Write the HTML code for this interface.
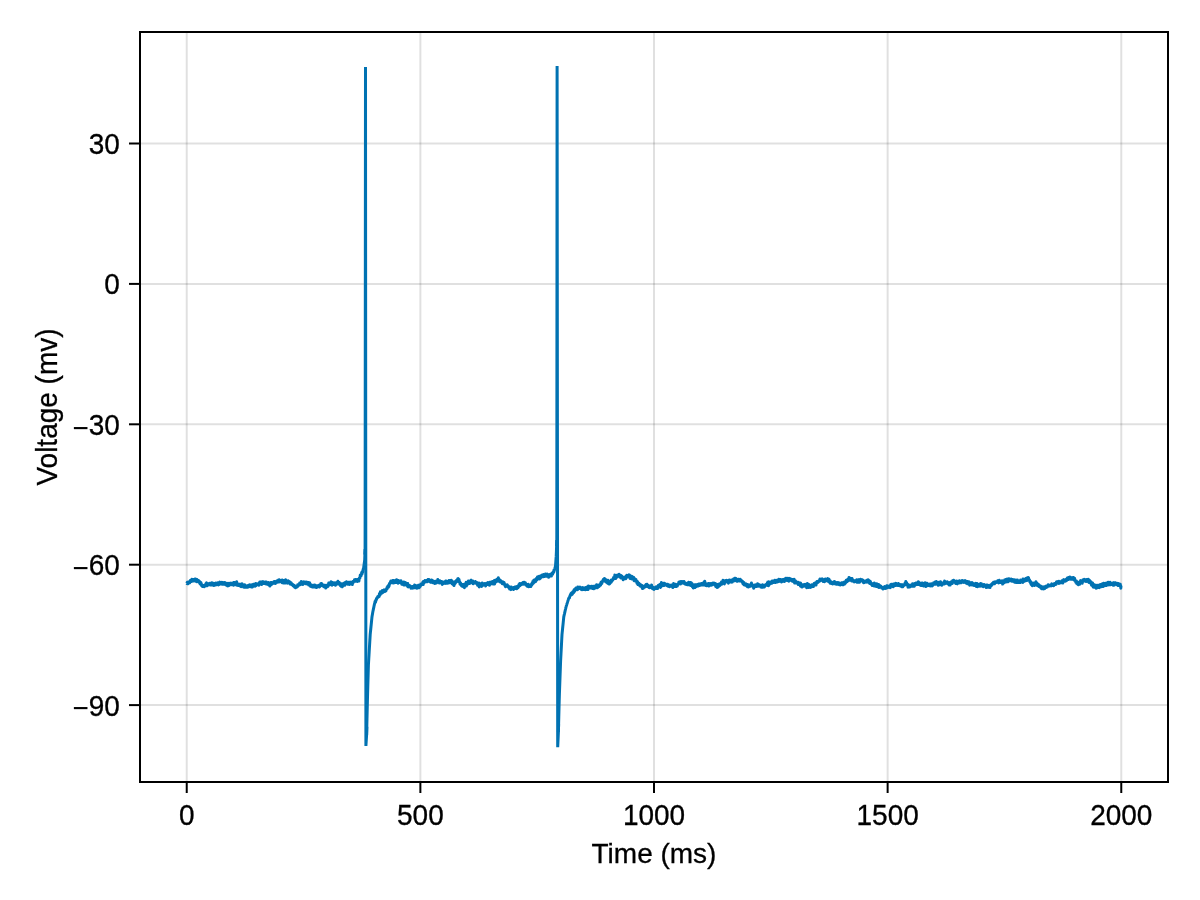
<!DOCTYPE html>
<html lang="en">
<head>
<meta charset="utf-8">
<title>Voltage trace</title>
<style>
html,body{margin:0;padding:0;background:#fff;}
body{width:1200px;height:900px;overflow:hidden;}
svg{display:block;}
text{font-family:"Liberation Sans",sans-serif;font-size:28px;fill:#000;stroke:#000;stroke-width:0.3px;}
</style>
</head>
<body>
<svg width="1200" height="900" viewBox="0 0 1200 900">
<rect x="0" y="0" width="1200" height="900" fill="#ffffff"/>
<g stroke="#000" stroke-opacity="0.12" stroke-width="2" fill="none">
<line x1="186.73" y1="32" x2="186.73" y2="782"/>
<line x1="420.37" y1="32" x2="420.37" y2="782"/>
<line x1="654.00" y1="32" x2="654.00" y2="782"/>
<line x1="887.63" y1="32" x2="887.63" y2="782"/>
<line x1="1121.27" y1="32" x2="1121.27" y2="782"/>
<line x1="140" y1="143.50" x2="1168" y2="143.50"/>
<line x1="140" y1="283.90" x2="1168" y2="283.90"/>
<line x1="140" y1="424.30" x2="1168" y2="424.30"/>
<line x1="140" y1="564.70" x2="1168" y2="564.70"/>
<line x1="140" y1="705.10" x2="1168" y2="705.10"/>
</g>
<g fill="none" stroke="#0072B2" stroke-width="3">
<polyline stroke-linejoin="round" points="186.7,583.2 186.9,583.4 187.1,582.9 187.3,582.4 187.5,582.6 187.7,582.2 187.9,582.9 188.1,583.8 188.3,582.3 188.5,582.2 188.7,583.0 188.9,582.8 189.1,582.6 189.3,581.7 189.5,582.3 189.7,582.8 189.9,581.2 190.1,581.8 190.3,580.6 190.5,580.9 190.7,580.4 190.9,581.5 191.1,580.6 191.3,581.6 191.5,581.4 191.7,581.0 191.9,579.2 192.1,580.5 192.3,580.8 192.5,580.8 192.7,579.4 192.9,580.1 193.1,579.6 193.3,579.6 193.5,580.9 193.7,579.4 193.9,579.8 194.1,580.5 194.3,579.4 194.5,579.8 194.7,580.0 194.9,580.0 195.1,579.1 195.3,580.1 195.5,581.1 195.7,578.9 195.9,580.8 196.1,580.3 196.3,579.7 196.5,581.7 196.7,580.8 196.9,579.4 197.1,580.4 197.3,580.8 197.5,580.3 197.7,581.0 197.9,580.4 198.1,581.1 198.3,581.9 198.5,580.6 198.7,581.5 198.9,581.2 199.1,581.9 199.3,581.2 199.5,581.9 199.7,582.4 199.9,583.5 200.1,583.9 200.3,582.3 200.5,582.9 200.7,584.2 200.9,582.4 201.1,583.8 201.3,584.2 201.5,585.4 201.7,585.2 201.9,584.7 202.1,584.8 202.3,585.1 202.5,586.6 202.7,585.4 202.9,585.7 203.1,586.4 203.3,586.2 203.5,586.4 203.7,585.5 203.9,586.2 204.1,585.7 204.3,586.8 204.5,586.3 204.7,585.6 204.9,586.0 205.1,585.1 205.3,586.0 205.5,585.1 205.7,585.4 205.9,583.8 206.1,584.9 206.3,583.2 206.5,582.8 206.7,584.0 206.9,583.4 207.1,584.1 207.3,585.7 207.5,583.4 207.7,583.6 207.9,584.2 208.1,584.5 208.3,584.0 208.5,584.0 208.7,584.7 208.9,584.5 209.1,583.4 209.3,584.1 209.5,584.2 209.7,583.4 209.9,584.4 210.1,583.6 210.3,585.0 210.5,584.4 210.7,584.4 210.9,583.9 211.1,584.3 211.3,582.9 211.5,583.5 211.7,584.7 211.9,582.8 212.1,585.1 212.3,583.1 212.5,585.0 212.7,583.8 212.9,585.1 213.1,584.6 213.3,583.3 213.5,585.4 213.7,585.5 213.9,584.3 214.1,584.1 214.3,584.2 214.5,583.5 214.7,585.1 214.9,583.8 215.1,584.1 215.3,583.6 215.5,583.7 215.7,583.1 215.9,585.0 216.1,583.9 216.3,584.7 216.5,584.0 216.7,583.4 216.9,583.7 217.1,583.5 217.3,583.9 217.5,583.5 217.7,583.6 217.9,582.7 218.1,583.1 218.3,584.9 218.5,583.2 218.7,582.9 218.9,583.9 219.1,584.6 219.3,582.5 219.5,583.4 219.7,583.0 219.9,582.1 220.1,584.0 220.3,583.4 220.5,583.4 220.7,582.8 220.9,583.7 221.1,582.9 221.3,583.1 221.5,582.4 221.7,582.3 221.9,584.2 222.1,582.8 222.3,583.3 222.5,583.0 222.7,582.7 222.9,582.6 223.1,583.5 223.3,582.9 223.5,583.1 223.7,583.2 223.9,584.2 224.1,583.9 224.3,583.7 224.5,583.1 224.7,582.5 224.9,584.3 225.1,584.4 225.3,583.7 225.5,584.2 225.7,584.5 225.9,584.6 226.1,584.7 226.3,583.8 226.5,585.3 226.7,583.3 226.9,584.9 227.1,584.7 227.3,585.1 227.5,585.9 227.7,585.7 227.9,583.8 228.1,583.4 228.3,585.4 228.5,584.1 228.7,584.9 228.9,585.6 229.1,583.7 229.3,583.3 229.5,585.0 229.7,584.8 229.9,584.5 230.1,584.7 230.3,584.0 230.5,583.4 230.7,584.4 230.9,583.7 231.1,583.1 231.3,584.7 231.5,584.2 231.7,584.5 231.9,583.4 232.1,583.6 232.3,583.3 232.5,583.3 232.7,584.0 232.9,583.2 233.1,584.0 233.3,584.0 233.5,585.2 233.7,582.5 233.9,584.2 234.1,583.5 234.3,583.6 234.5,582.5 234.7,583.3 234.9,584.3 235.1,583.7 235.3,583.9 235.5,583.7 235.7,584.8 235.9,584.0 236.1,582.4 236.3,583.6 236.5,582.7 236.7,581.8 236.9,583.9 237.1,585.3 237.3,584.4 237.5,583.6 237.7,583.8 237.9,585.4 238.1,584.7 238.3,584.7 238.5,584.7 238.7,584.8 238.9,585.4 239.1,585.3 239.3,585.1 239.5,584.2 239.7,585.4 239.9,584.6 240.1,586.0 240.3,584.2 240.5,585.2 240.7,585.3 240.9,584.4 241.1,586.7 241.3,586.6 241.5,585.2 241.7,586.2 241.9,585.9 242.1,583.7 242.3,585.9 242.5,585.7 242.7,585.9 242.9,585.1 243.1,585.8 243.3,585.9 243.5,587.0 243.7,586.4 243.9,586.2 244.1,587.3 244.3,585.8 244.5,585.9 244.7,584.8 244.9,587.3 245.1,586.9 245.3,586.8 245.5,586.7 245.7,586.2 245.9,586.3 246.1,585.9 246.3,586.0 246.5,586.2 246.7,587.2 246.9,586.5 247.1,586.1 247.3,585.7 247.5,585.6 247.7,587.3 247.9,586.5 248.1,586.1 248.3,585.8 248.5,585.2 248.7,586.0 248.9,586.7 249.1,585.7 249.3,585.9 249.5,585.9 249.7,586.1 249.9,584.8 250.1,585.8 250.3,585.3 250.5,586.5 250.7,585.3 250.9,586.2 251.1,586.9 251.3,585.4 251.5,585.2 251.7,585.7 251.9,585.5 252.1,584.7 252.3,585.8 252.5,586.9 252.7,585.1 252.9,585.1 253.1,584.5 253.3,585.4 253.5,584.2 253.7,584.3 253.9,586.0 254.1,584.3 254.3,585.8 254.5,586.0 254.7,585.0 254.9,585.2 255.1,586.2 255.3,584.6 255.5,584.2 255.7,583.6 255.9,584.6 256.1,585.6 256.3,585.2 256.5,583.7 256.7,583.7 256.9,583.9 257.1,584.5 257.3,584.1 257.5,584.3 257.7,584.3 257.9,583.8 258.1,584.0 258.3,584.1 258.5,583.9 258.7,584.3 258.9,585.2 259.1,584.2 259.3,583.7 259.5,582.4 259.7,583.9 259.9,582.0 260.1,582.4 260.3,584.0 260.5,583.8 260.7,583.1 260.9,581.9 261.1,582.8 261.3,582.5 261.5,583.5 261.7,584.6 261.9,583.0 262.1,582.2 262.3,581.8 262.5,582.6 262.7,582.5 262.9,581.7 263.1,582.6 263.3,581.7 263.5,583.5 263.7,583.5 263.9,583.5 264.1,582.4 264.3,583.2 264.5,582.8 264.7,582.6 264.9,582.7 265.1,582.0 265.3,582.0 265.5,583.7 265.7,583.0 265.9,583.4 266.1,584.0 266.3,582.0 266.5,582.8 266.7,583.5 266.9,583.7 267.1,583.2 267.3,584.3 267.5,583.8 267.7,582.7 267.9,583.0 268.1,584.3 268.3,584.1 268.5,582.4 268.7,584.9 268.9,584.4 269.1,585.0 269.3,583.7 269.5,583.9 269.7,583.3 269.9,586.1 270.1,584.0 270.3,585.3 270.5,583.5 270.7,584.1 270.9,582.6 271.1,583.5 271.3,584.5 271.5,582.7 271.7,584.4 271.9,583.8 272.1,582.7 272.3,583.0 272.5,583.0 272.7,583.2 272.9,582.8 273.1,582.5 273.3,582.8 273.5,582.2 273.7,581.9 273.9,582.8 274.1,583.4 274.3,581.5 274.5,582.6 274.7,582.0 274.9,581.7 275.1,583.0 275.3,581.9 275.5,583.4 275.7,581.6 275.9,582.4 276.1,581.9 276.3,581.4 276.5,582.3 276.7,581.7 276.9,582.2 277.1,581.6 277.3,580.8 277.5,581.5 277.7,581.5 277.9,582.1 278.1,580.6 278.3,581.2 278.5,579.9 278.7,581.6 278.9,580.2 279.1,579.7 279.3,581.0 279.5,581.9 279.7,580.0 279.9,580.3 280.1,580.6 280.3,580.3 280.5,581.5 280.7,580.6 280.9,580.7 281.1,581.7 281.3,580.7 281.5,581.7 281.7,580.6 281.9,580.5 282.1,580.0 282.3,582.8 282.5,581.2 282.7,581.7 282.9,581.5 283.1,581.7 283.3,581.6 283.5,583.0 283.7,580.9 283.9,580.5 284.1,580.9 284.3,580.7 284.5,582.3 284.7,582.4 284.9,581.1 285.1,580.8 285.3,581.6 285.5,582.9 285.7,579.8 285.9,582.3 286.1,581.2 286.3,582.8 286.5,581.2 286.7,581.8 286.9,580.9 287.1,581.4 287.3,583.2 287.5,582.8 287.7,581.9 287.9,581.6 288.1,580.8 288.3,582.0 288.5,582.3 288.7,582.3 288.9,582.3 289.1,581.5 289.3,582.4 289.5,582.4 289.7,583.4 289.9,583.9 290.1,582.5 290.3,582.2 290.5,583.0 290.7,582.7 290.9,582.8 291.1,583.6 291.3,583.0 291.5,584.5 291.7,584.1 291.9,584.6 292.1,584.5 292.3,584.3 292.5,584.3 292.7,585.0 292.9,585.0 293.1,585.8 293.3,585.8 293.5,585.0 293.7,586.3 293.9,585.4 294.1,586.1 294.3,586.6 294.5,585.4 294.7,587.3 294.9,587.5 295.1,587.5 295.3,587.5 295.5,587.7 295.7,587.1 295.9,587.4 296.1,587.0 296.3,587.3 296.5,586.2 296.7,587.1 296.9,586.8 297.1,586.4 297.3,586.0 297.5,586.5 297.7,584.7 297.9,586.1 298.1,585.8 298.3,585.6 298.5,585.5 298.7,584.5 298.9,584.6 299.1,585.1 299.3,584.8 299.5,584.4 299.7,582.9 299.9,584.3 300.1,584.7 300.3,584.5 300.5,583.8 300.7,582.4 300.9,584.3 301.1,583.4 301.3,581.6 301.5,583.7 301.7,582.2 301.9,582.3 302.1,582.8 302.3,584.2 302.5,582.9 302.7,583.3 302.9,584.4 303.1,584.2 303.3,582.9 303.5,582.7 303.7,581.9 303.9,582.3 304.1,583.1 304.3,583.0 304.5,582.7 304.7,583.3 304.9,581.9 305.1,582.5 305.3,583.2 305.5,583.2 305.7,583.7 305.9,583.2 306.1,582.8 306.3,583.4 306.5,582.5 306.7,582.1 306.9,583.9 307.1,583.5 307.3,583.9 307.5,582.5 307.7,583.6 307.9,583.5 308.1,583.4 308.3,582.5 308.5,584.0 308.7,585.0 308.9,584.7 309.1,584.1 309.3,584.6 309.5,585.3 309.7,582.8 309.9,584.9 310.1,585.4 310.3,585.6 310.5,586.4 310.7,586.0 310.9,585.5 311.1,585.5 311.3,585.9 311.5,585.0 311.7,585.4 311.9,586.2 312.1,587.0 312.3,585.5 312.5,585.6 312.7,585.8 312.9,586.8 313.1,585.8 313.3,587.0 313.5,585.2 313.7,585.8 313.9,585.9 314.1,586.6 314.3,586.9 314.5,585.0 314.7,585.5 314.9,586.5 315.1,585.8 315.3,585.2 315.5,587.2 315.7,586.8 315.9,586.9 316.1,586.2 316.3,587.4 316.5,586.5 316.7,587.5 316.9,586.1 317.1,586.1 317.3,586.8 317.5,586.0 317.7,586.9 317.9,586.5 318.1,585.5 318.3,586.1 318.5,585.7 318.7,586.5 318.9,585.2 319.1,585.3 319.3,586.4 319.5,587.0 319.7,586.7 319.9,585.2 320.1,585.2 320.3,586.1 320.5,584.7 320.7,583.9 320.9,584.6 321.1,584.9 321.3,584.0 321.5,583.5 321.7,583.8 321.9,585.4 322.1,584.5 322.3,585.0 322.5,585.4 322.7,585.8 322.9,585.2 323.1,585.9 323.3,585.0 323.5,585.5 323.7,585.1 323.9,586.8 324.1,586.0 324.3,585.6 324.5,586.0 324.7,586.2 324.9,587.0 325.1,585.3 325.3,585.6 325.5,586.0 325.7,588.0 325.9,586.8 326.1,585.9 326.3,586.4 326.5,587.3 326.7,585.5 326.9,585.3 327.1,586.4 327.3,585.7 327.5,585.8 327.7,584.8 327.9,586.5 328.1,586.2 328.3,585.3 328.5,585.3 328.7,583.1 328.9,585.0 329.1,584.3 329.3,584.7 329.5,584.8 329.7,583.9 329.9,582.8 330.1,584.2 330.3,583.3 330.5,583.5 330.7,583.2 330.9,583.3 331.1,581.8 331.3,584.5 331.5,583.8 331.7,584.5 331.9,585.2 332.1,583.8 332.3,582.5 332.5,583.3 332.7,583.1 332.9,583.7 333.1,584.2 333.3,582.7 333.5,584.5 333.7,583.1 333.9,584.6 334.1,584.3 334.3,584.2 334.5,584.4 334.7,584.0 334.9,583.8 335.1,582.8 335.3,583.9 335.5,585.2 335.7,585.1 335.9,584.5 336.1,583.9 336.3,582.7 336.5,584.2 336.7,582.9 336.9,582.7 337.1,582.4 337.3,582.6 337.5,582.0 337.7,582.2 337.9,581.3 338.1,581.8 338.3,584.0 338.5,582.4 338.7,582.5 338.9,583.3 339.1,583.6 339.3,582.5 339.5,583.3 339.7,584.4 339.9,584.1 340.1,584.2 340.3,585.5 340.5,584.0 340.7,584.8 340.9,584.5 341.1,586.2 341.3,583.8 341.5,585.0 341.7,585.3 341.9,586.4 342.1,586.4 342.3,586.8 342.5,584.5 342.7,586.1 342.9,585.2 343.1,584.7 343.3,585.5 343.5,584.3 343.7,583.3 343.9,584.4 344.1,583.4 344.3,583.9 344.5,584.5 344.7,584.3 344.9,585.2 345.1,583.7 345.3,582.5 345.5,583.0 345.7,582.7 345.9,582.4 346.1,583.5 346.3,582.7 346.5,581.7 346.7,583.8 346.9,583.2 347.1,583.5 347.3,583.4 347.5,583.8 347.7,583.3 347.9,584.2 348.1,583.6 348.3,583.6 348.5,583.7 348.7,582.3 348.9,583.3 349.1,583.2 349.3,583.6 349.5,582.4 349.7,584.6 349.9,583.5 350.1,582.5 350.3,582.2 350.5,583.3 350.7,583.4 350.9,583.0 351.1,583.5 351.3,582.8 351.5,583.6 351.7,582.5 351.9,582.9 352.1,583.5 352.3,584.6 352.5,581.8 352.7,582.1 352.9,581.7 353.1,582.8 353.3,581.2 353.5,581.6 353.7,581.8 353.9,581.0 354.1,580.8 354.3,581.1 354.5,579.7 354.7,580.1 354.9,580.8 355.1,581.1 355.3,580.8 355.5,579.5 355.7,580.5 355.9,581.3 356.1,581.1 356.3,580.6 356.5,579.9 356.7,581.0 356.9,580.0 357.1,579.5 357.3,579.7 357.5,581.4 357.7,580.4 357.9,581.0 358.1,579.8 358.3,580.8 358.5,579.5 358.7,579.5 358.9,581.1 359.1,579.4 359.3,578.0 359.5,577.9 359.7,577.8 359.9,578.1 360.1,576.4 360.3,575.1 360.5,575.8 360.7,575.6 360.9,575.3 361.1,575.7 361.3,574.5 361.5,574.4 361.7,572.5 361.9,573.5 362.1,573.9 362.3,572.5 362.5,571.6 362.7,571.0 362.9,571.8 363.1,569.3 363.3,569.4 363.5,569.0 363.7,567.5 363.9,566.0 364.1,564.5 364.3,563.0 364.5,561.5 364.7,560.0 364.9,554.5 365.1,549.1"/>
<polyline stroke-linejoin="bevel" points="364.9,554.5 365.1,549.1 365.5,67.0 365.9,746.0 366.6,735.0 366.8,726.6"/>
<polyline stroke-linejoin="round" points="366.6,735.0 366.8,726.6 367.0,718.1 367.2,709.7 367.4,701.2 367.6,693.4 367.8,686.3 368.0,679.2 368.2,672.1 368.4,665.0 368.6,661.6 368.8,658.2 369.0,654.8 369.2,651.4 369.4,648.0 369.6,644.6 369.8,641.2 370.0,637.8 370.2,634.4 370.4,632.4 370.6,630.5 370.8,628.5 371.0,626.5 371.2,624.6 371.4,622.6 371.6,620.6 371.8,618.7 372.0,616.7 372.2,615.6 372.4,614.4 372.6,613.3 372.8,612.1 373.0,611.0 373.2,610.1 373.4,609.1 373.6,608.2 373.8,607.3 374.0,606.3 374.2,605.4 374.4,604.4 374.6,603.5 374.8,603.0 375.0,601.6 375.2,601.8 375.4,602.3 375.6,602.0 375.8,600.3 376.0,600.5 376.2,600.2 376.4,598.8 376.6,599.1 376.8,598.5 377.0,597.8 377.2,597.5 377.4,597.6 377.6,597.3 377.8,596.5 378.0,596.3 378.2,597.2 378.4,596.2 378.6,596.4 378.8,596.3 379.0,595.5 379.2,596.5 379.4,593.8 379.6,594.7 379.8,593.6 380.0,594.9 380.2,594.7 380.4,591.8 380.6,592.4 380.8,593.5 381.0,593.5 381.2,593.4 381.4,592.6 381.6,592.9 381.8,592.9 382.0,592.3 382.2,593.0 382.4,590.4 382.6,592.5 382.8,591.1 383.0,592.5 383.2,591.5 383.4,590.9 383.6,591.7 383.8,590.6 384.0,590.5 384.2,589.9 384.4,590.9 384.6,591.2 384.8,591.5 385.0,590.5 385.2,591.3 385.4,590.4 385.6,590.2 385.8,590.5 386.0,590.8 386.2,589.4 386.4,589.1 386.6,588.8 386.8,588.7 387.0,587.6 387.2,588.7 387.4,587.2 387.6,587.5 387.8,586.2 388.0,586.8 388.2,586.4 388.4,585.5 388.6,587.0 388.8,585.4 389.0,586.1 389.2,585.1 389.4,583.6 389.6,583.4 389.8,583.7 390.0,583.0 390.2,583.0 390.4,582.6 390.6,581.4 390.8,582.5 391.0,581.0 391.2,582.8 391.4,582.0 391.6,581.9 391.8,582.2 392.0,582.5 392.2,581.1 392.4,580.8 392.6,581.3 392.8,580.5 393.0,581.2 393.2,583.0 393.4,581.0 393.6,582.2 393.8,580.6 394.0,581.8 394.2,581.2 394.4,581.4 394.6,581.8 394.8,582.6 395.0,581.3 395.2,581.3 395.4,580.5 395.6,581.7 395.8,581.1 396.0,581.9 396.2,581.3 396.4,582.6 396.6,579.8 396.8,581.1 397.0,582.0 397.2,581.1 397.4,580.8 397.6,581.2 397.8,580.4 398.0,581.5 398.2,583.3 398.4,582.3 398.6,580.6 398.8,580.8 399.0,581.2 399.2,582.4 399.4,581.1 399.6,581.3 399.8,582.6 400.0,582.6 400.2,581.8 400.4,581.4 400.6,581.1 400.8,581.9 401.0,580.8 401.2,583.2 401.4,582.2 401.6,583.2 401.8,584.3 402.0,583.9 402.2,582.2 402.4,583.9 402.6,584.2 402.8,582.8 403.0,582.8 403.2,583.5 403.4,582.5 403.6,584.9 403.8,582.1 404.0,583.2 404.2,583.8 404.4,583.8 404.6,584.1 404.8,584.2 405.0,583.8 405.2,584.9 405.4,582.4 405.6,584.0 405.8,583.5 406.0,584.1 406.2,584.2 406.4,583.3 406.6,583.5 406.8,584.6 407.0,584.3 407.2,583.7 407.4,585.9 407.6,586.3 407.8,583.6 408.0,585.1 408.2,586.9 408.4,585.8 408.6,585.6 408.8,585.4 409.0,585.3 409.2,585.8 409.4,585.7 409.6,586.8 409.8,586.2 410.0,586.3 410.2,585.9 410.4,586.9 410.6,586.5 410.8,587.2 411.0,588.3 411.2,587.7 411.4,587.8 411.6,587.7 411.8,587.4 412.0,587.2 412.2,587.0 412.4,587.8 412.6,586.4 412.8,588.2 413.0,587.1 413.2,586.5 413.4,586.7 413.6,586.5 413.8,587.1 414.0,586.4 414.2,587.8 414.4,586.3 414.6,585.1 414.8,586.2 415.0,585.2 415.2,586.7 415.4,587.5 415.6,587.1 415.8,585.6 416.0,586.0 416.2,587.9 416.4,586.7 416.6,586.4 416.8,587.2 417.0,588.2 417.2,587.3 417.4,586.4 417.6,586.5 417.8,586.7 418.0,585.7 418.2,585.3 418.4,586.1 418.6,585.4 418.8,586.0 419.0,586.1 419.2,587.7 419.4,585.3 419.6,585.8 419.8,585.7 420.0,586.1 420.2,586.4 420.4,585.1 420.6,584.7 420.8,584.0 421.0,584.3 421.2,585.3 421.4,584.8 421.6,583.8 421.8,584.1 422.0,584.3 422.2,584.5 422.4,583.5 422.6,583.6 422.8,582.3 423.0,582.6 423.2,584.6 423.4,581.6 423.6,582.8 423.8,583.1 424.0,582.5 424.2,582.0 424.4,582.4 424.6,582.3 424.8,582.1 425.0,580.6 425.2,581.7 425.4,581.1 425.6,581.1 425.8,581.6 426.0,581.7 426.2,581.8 426.4,580.6 426.6,581.5 426.8,581.5 427.0,581.4 427.2,581.6 427.4,580.4 427.6,580.4 427.8,581.2 428.0,579.6 428.2,580.8 428.4,580.3 428.6,580.4 428.8,579.4 429.0,580.1 429.2,580.8 429.4,581.5 429.6,581.6 429.8,580.8 430.0,580.7 430.2,580.3 430.4,581.2 430.6,580.8 430.8,581.4 431.0,582.3 431.2,581.1 431.4,580.0 431.6,580.6 431.8,580.2 432.0,580.5 432.2,582.4 432.4,581.7 432.6,580.5 432.8,582.2 433.0,582.7 433.2,581.6 433.4,581.4 433.6,581.7 433.8,582.3 434.0,582.6 434.2,583.1 434.4,583.2 434.6,583.2 434.8,583.4 435.0,583.0 435.2,581.3 435.4,582.2 435.6,582.5 435.8,581.9 436.0,582.8 436.2,581.7 436.4,581.2 436.6,582.9 436.8,582.2 437.0,581.8 437.2,582.2 437.4,582.3 437.6,581.6 437.8,579.4 438.0,580.7 438.2,580.9 438.4,580.6 438.6,581.5 438.8,582.3 439.0,581.1 439.2,580.7 439.4,583.1 439.6,581.3 439.8,580.7 440.0,581.9 440.2,582.1 440.4,581.3 440.6,582.5 440.8,581.6 441.0,581.3 441.2,582.2 441.4,582.7 441.6,581.7 441.8,582.4 442.0,582.2 442.2,584.4 442.4,581.8 442.6,583.4 442.8,582.4 443.0,582.4 443.2,583.0 443.4,583.1 443.6,583.4 443.8,582.6 444.0,581.9 444.2,581.9 444.4,582.7 444.6,582.7 444.8,583.3 445.0,582.5 445.2,583.0 445.4,583.3 445.6,582.3 445.8,581.0 446.0,581.2 446.2,581.0 446.4,583.2 446.6,581.4 446.8,582.9 447.0,582.4 447.2,583.2 447.4,582.6 447.6,581.8 447.8,581.7 448.0,581.8 448.2,581.9 448.4,581.3 448.6,581.7 448.8,582.9 449.0,580.4 449.2,581.8 449.4,580.9 449.6,581.7 449.8,582.2 450.0,581.5 450.2,582.2 450.4,580.5 450.6,582.6 450.8,581.4 451.0,582.5 451.2,582.2 451.4,580.3 451.6,581.7 451.8,582.6 452.0,583.7 452.2,582.8 452.4,582.9 452.6,581.7 452.8,584.0 453.0,584.4 453.2,583.1 453.4,583.0 453.6,582.1 453.8,584.1 454.0,585.5 454.2,583.9 454.4,584.1 454.6,583.4 454.8,582.1 455.0,583.6 455.2,581.5 455.4,582.1 455.6,582.3 455.8,582.6 456.0,582.0 456.2,581.8 456.4,580.8 456.6,580.2 456.8,581.1 457.0,580.3 457.2,579.7 457.4,579.5 457.6,579.9 457.8,578.7 458.0,578.9 458.2,578.5 458.4,579.7 458.6,580.0 458.8,581.7 459.0,579.5 459.2,580.5 459.4,582.2 459.6,581.8 459.8,582.1 460.0,584.1 460.2,583.0 460.4,582.8 460.6,583.1 460.8,584.8 461.0,585.2 461.2,584.1 461.4,584.5 461.6,585.8 461.8,585.9 462.0,585.1 462.2,586.2 462.4,586.3 462.6,584.6 462.8,585.8 463.0,586.5 463.2,585.9 463.4,584.8 463.6,586.2 463.8,586.8 464.0,587.3 464.2,584.3 464.4,587.7 464.6,584.7 464.8,586.1 465.0,586.1 465.2,585.8 465.4,585.0 465.6,583.8 465.8,585.0 466.0,583.8 466.2,582.3 466.4,586.1 466.6,584.4 466.8,585.0 467.0,582.8 467.2,584.5 467.4,584.5 467.6,584.3 467.8,583.0 468.0,582.0 468.2,582.7 468.4,581.0 468.6,581.3 468.8,582.5 469.0,581.6 469.2,582.1 469.4,582.0 469.6,583.5 469.8,582.9 470.0,581.7 470.2,582.6 470.4,581.0 470.6,581.2 470.8,582.0 471.0,580.3 471.2,581.1 471.4,580.4 471.6,581.5 471.8,582.7 472.0,581.0 472.2,581.8 472.4,581.0 472.6,580.9 472.8,580.9 473.0,583.0 473.2,583.8 473.4,582.4 473.6,581.6 473.8,582.7 474.0,582.0 474.2,583.0 474.4,582.6 474.6,582.7 474.8,583.0 475.0,582.2 475.2,582.4 475.4,581.5 475.6,582.5 475.8,581.9 476.0,582.9 476.2,582.4 476.4,583.3 476.6,583.7 476.8,582.5 477.0,583.1 477.2,583.1 477.4,584.5 477.6,585.3 477.8,584.8 478.0,584.1 478.2,585.6 478.4,583.5 478.6,585.9 478.8,584.4 479.0,582.9 479.2,587.0 479.4,586.1 479.6,584.1 479.8,585.0 480.0,584.7 480.2,584.9 480.4,583.7 480.6,584.3 480.8,585.1 481.0,584.9 481.2,585.6 481.4,584.7 481.6,586.4 481.8,584.1 482.0,584.8 482.2,583.1 482.4,583.6 482.6,585.5 482.8,583.8 483.0,584.8 483.2,584.4 483.4,583.6 483.6,584.1 483.8,583.9 484.0,583.9 484.2,584.8 484.4,584.7 484.6,583.8 484.8,583.5 485.0,584.4 485.2,584.0 485.4,584.9 485.6,586.0 485.8,584.7 486.0,584.0 486.2,583.8 486.4,583.3 486.6,583.2 486.8,583.1 487.0,583.5 487.2,583.4 487.4,584.2 487.6,583.3 487.8,583.4 488.0,582.6 488.2,584.7 488.4,583.8 488.6,584.8 488.8,584.0 489.0,584.4 489.2,583.1 489.4,583.8 489.6,585.2 489.8,582.2 490.0,584.0 490.2,584.3 490.4,583.3 490.6,583.5 490.8,583.9 491.0,582.4 491.2,583.1 491.4,582.1 491.6,582.2 491.8,582.2 492.0,582.5 492.2,582.7 492.4,582.9 492.6,581.4 492.8,584.0 493.0,583.3 493.2,582.9 493.4,582.1 493.6,582.2 493.8,582.7 494.0,582.5 494.2,580.8 494.4,582.5 494.6,584.0 494.8,580.2 495.0,582.3 495.2,581.7 495.4,581.2 495.6,582.2 495.8,580.1 496.0,581.0 496.2,581.8 496.4,580.4 496.6,580.1 496.8,580.4 497.0,579.8 497.2,581.2 497.4,579.2 497.6,580.4 497.8,578.7 498.0,580.0 498.2,579.5 498.4,577.8 498.6,579.9 498.8,579.2 499.0,579.8 499.2,581.4 499.4,579.5 499.6,579.7 499.8,581.7 500.0,580.8 500.2,582.1 500.4,581.2 500.6,580.4 500.8,581.2 501.0,582.3 501.2,582.2 501.4,581.6 501.6,581.8 501.8,581.8 502.0,581.6 502.2,583.7 502.4,582.4 502.6,581.7 502.8,582.3 503.0,583.4 503.2,583.5 503.4,583.1 503.6,582.9 503.8,583.6 504.0,582.5 504.2,582.9 504.4,584.7 504.6,583.9 504.8,584.7 505.0,585.6 505.2,585.3 505.4,585.0 505.6,586.8 505.8,585.8 506.0,585.2 506.2,586.2 506.4,586.1 506.6,585.2 506.8,586.1 507.0,586.0 507.2,584.8 507.4,586.3 507.6,586.3 507.8,586.4 508.0,585.6 508.2,586.7 508.4,587.1 508.6,587.3 508.8,586.5 509.0,588.0 509.2,586.7 509.4,587.6 509.6,588.9 509.8,587.5 510.0,587.7 510.2,589.1 510.4,588.1 510.6,588.3 510.8,588.8 511.0,589.6 511.2,587.0 511.4,588.1 511.6,587.9 511.8,587.8 512.0,587.9 512.2,587.8 512.4,588.7 512.6,587.7 512.8,588.4 513.0,588.6 513.2,587.7 513.4,588.3 513.6,589.4 513.8,588.3 514.0,587.5 514.2,587.9 514.4,587.2 514.6,588.1 514.8,588.5 515.0,587.1 515.2,587.5 515.4,588.5 515.6,587.2 515.8,587.7 516.0,586.7 516.2,586.7 516.4,586.9 516.6,588.8 516.8,586.7 517.0,586.5 517.2,586.3 517.4,586.5 517.6,587.0 517.8,586.5 518.0,587.8 518.2,586.3 518.4,587.1 518.6,586.1 518.8,586.2 519.0,584.5 519.2,585.4 519.4,585.3 519.6,585.1 519.8,583.5 520.0,585.7 520.2,584.6 520.4,584.4 520.6,584.5 520.8,584.4 521.0,584.7 521.2,583.4 521.4,583.5 521.6,584.3 521.8,584.1 522.0,583.6 522.2,583.3 522.4,583.0 522.6,583.5 522.8,584.3 523.0,582.5 523.2,584.3 523.4,583.7 523.6,582.7 523.8,583.8 524.0,582.3 524.2,582.2 524.4,582.7 524.6,583.5 524.8,583.7 525.0,583.7 525.2,584.3 525.4,582.8 525.6,584.9 525.8,583.7 526.0,584.4 526.2,584.7 526.4,584.3 526.6,584.3 526.8,584.7 527.0,585.6 527.2,586.2 527.4,586.3 527.6,585.2 527.8,585.4 528.0,585.2 528.2,586.2 528.4,584.3 528.6,586.8 528.8,585.5 529.0,585.2 529.2,586.0 529.4,586.5 529.6,586.0 529.8,586.5 530.0,585.7 530.2,586.5 530.4,586.5 530.6,585.5 530.8,586.6 531.0,585.6 531.2,585.3 531.4,584.3 531.6,584.5 531.8,585.1 532.0,583.3 532.2,584.5 532.4,584.0 532.6,583.7 532.8,581.6 533.0,582.9 533.2,583.3 533.4,582.0 533.6,582.4 533.8,580.3 534.0,582.4 534.2,581.2 534.4,582.1 534.6,579.8 534.8,581.5 535.0,580.6 535.2,581.1 535.4,579.6 535.6,579.6 535.8,581.5 536.0,579.0 536.2,578.9 536.4,579.0 536.6,578.2 536.8,579.6 537.0,579.8 537.2,577.9 537.4,577.0 537.6,579.1 537.8,578.9 538.0,578.6 538.2,578.8 538.4,577.1 538.6,577.6 538.8,576.6 539.0,576.4 539.2,578.1 539.4,576.8 539.6,578.9 539.8,577.2 540.0,576.5 540.2,577.5 540.4,578.2 540.6,577.1 540.8,575.7 541.0,576.8 541.2,577.4 541.4,575.9 541.6,575.6 541.8,576.9 542.0,576.1 542.2,575.1 542.4,575.7 542.6,575.4 542.8,576.1 543.0,576.0 543.2,576.7 543.4,576.4 543.6,574.6 543.8,576.1 544.0,576.4 544.2,576.1 544.4,576.5 544.6,575.3 544.8,574.9 545.0,576.3 545.2,574.8 545.4,574.0 545.6,576.3 545.8,575.0 546.0,575.3 546.2,574.5 546.4,574.6 546.6,574.8 546.8,575.4 547.0,576.0 547.2,574.0 547.4,576.3 547.6,574.9 547.8,575.1 548.0,576.4 548.2,575.9 548.4,574.8 548.6,577.3 548.8,575.2 549.0,575.9 549.2,575.7 549.4,576.5 549.6,575.0 549.8,576.0 550.0,574.6 550.2,575.9 550.4,574.3 550.6,574.5 550.8,576.1 551.0,574.8 551.2,574.5 551.4,576.0 551.6,574.5 551.8,573.5 552.0,574.6 552.2,572.9 552.4,574.3 552.6,574.2 552.8,572.6 553.0,572.3 553.2,572.6 553.4,572.3 553.6,571.3 553.8,572.2 554.0,570.0 554.2,570.8 554.4,570.0 554.6,569.3 554.8,568.6 555.0,567.8 555.2,567.1 555.4,566.4 555.6,564.6 555.8,561.9 556.0,559.1 556.2,556.4 556.4,552.0 556.6,546.0 556.8,540.0"/>
<polyline stroke-linejoin="bevel" points="556.6,546.0 556.8,540.0 557.1,66.0 557.7,747.3 558.4,732.0 558.6,724.2"/>
<polyline stroke-linejoin="round" points="558.4,732.0 558.6,724.2 558.8,716.3 559.0,708.5 559.2,700.6 559.4,694.0 559.6,688.5 559.8,683.0 560.0,677.5 560.2,672.0 560.4,666.5 560.6,661.0 560.8,657.2 561.0,653.4 561.2,649.6 561.4,645.8 561.6,642.0 561.8,638.2 562.0,634.4 562.2,632.4 562.4,630.5 562.6,628.5 562.8,626.5 563.0,624.6 563.2,622.6 563.4,620.6 563.6,618.7 563.8,616.7 564.0,615.8 564.2,614.9 564.4,614.1 564.6,613.2 564.8,612.3 565.0,611.4 565.2,610.5 565.4,609.6 565.6,608.8 565.8,607.9 566.0,607.0 566.2,606.4 566.4,605.7 566.6,605.1 566.8,604.4 567.0,603.8 567.2,603.2 567.4,602.5 567.6,601.9 567.8,601.2 568.0,600.6 568.2,600.0 568.4,599.3 568.6,598.6 568.8,598.4 569.0,597.9 569.2,597.6 569.4,598.0 569.6,596.9 569.8,596.3 570.0,595.8 570.2,595.9 570.4,594.5 570.6,594.4 570.8,594.4 571.0,593.6 571.2,593.7 571.4,593.1 571.6,594.8 571.8,594.1 572.0,593.2 572.2,592.6 572.4,594.1 572.6,592.4 572.8,591.9 573.0,592.0 573.2,591.8 573.4,592.4 573.6,591.1 573.8,592.4 574.0,590.0 574.2,590.9 574.4,589.4 574.6,591.3 574.8,589.5 575.0,589.5 575.2,590.1 575.4,590.3 575.6,588.4 575.8,588.9 576.0,588.1 576.2,589.2 576.4,588.9 576.6,588.6 576.8,588.3 577.0,588.5 577.2,588.1 577.4,589.0 577.6,589.7 577.8,587.0 578.0,588.3 578.2,588.0 578.4,588.6 578.6,587.4 578.8,588.0 579.0,587.2 579.2,588.6 579.4,588.2 579.6,588.0 579.8,588.4 580.0,588.0 580.2,587.1 580.4,588.7 580.6,588.5 580.8,588.2 581.0,589.1 581.2,589.4 581.4,587.7 581.6,587.9 581.8,589.7 582.0,589.7 582.2,588.1 582.4,587.8 582.6,588.2 582.8,588.4 583.0,587.6 583.2,588.9 583.4,587.9 583.6,588.0 583.8,589.6 584.0,588.5 584.2,588.9 584.4,589.3 584.6,589.4 584.8,588.4 585.0,588.7 585.2,587.9 585.4,589.8 585.6,588.9 585.8,587.5 586.0,588.3 586.2,588.7 586.4,588.5 586.6,589.4 586.8,589.0 587.0,587.5 587.2,587.7 587.4,586.8 587.6,587.8 587.8,587.7 588.0,589.5 588.2,587.6 588.4,585.9 588.6,587.0 588.8,587.6 589.0,586.6 589.2,586.8 589.4,587.2 589.6,587.8 589.8,587.4 590.0,586.8 590.2,588.1 590.4,587.1 590.6,587.1 590.8,586.5 591.0,586.9 591.2,588.0 591.4,586.3 591.6,587.4 591.8,588.0 592.0,587.2 592.2,587.7 592.4,586.7 592.6,588.5 592.8,588.3 593.0,587.7 593.2,586.2 593.4,586.7 593.6,588.2 593.8,588.8 594.0,587.7 594.2,588.4 594.4,586.9 594.6,587.1 594.8,587.2 595.0,587.4 595.2,585.9 595.4,587.6 595.6,587.9 595.8,585.9 596.0,585.7 596.2,586.9 596.4,586.0 596.6,584.7 596.8,587.0 597.0,586.4 597.2,585.9 597.4,587.7 597.6,586.2 597.8,585.4 598.0,586.0 598.2,585.0 598.4,585.2 598.6,585.9 598.8,585.2 599.0,585.2 599.2,586.5 599.4,585.7 599.6,585.4 599.8,585.0 600.0,584.8 600.2,585.3 600.4,584.0 600.6,585.1 600.8,582.8 601.0,583.1 601.2,582.1 601.4,582.6 601.6,583.1 601.8,583.5 602.0,581.7 602.2,582.0 602.4,581.5 602.6,581.0 602.8,580.5 603.0,581.2 603.2,579.6 603.4,580.8 603.6,580.5 603.8,579.8 604.0,579.3 604.2,578.8 604.4,581.0 604.6,578.6 604.8,580.9 605.0,580.3 605.2,579.7 605.4,579.3 605.6,581.1 605.8,581.7 606.0,579.8 606.2,580.5 606.4,581.6 606.6,581.2 606.8,582.6 607.0,580.8 607.2,581.8 607.4,580.6 607.6,583.2 607.8,581.3 608.0,580.3 608.2,582.0 608.4,582.1 608.6,583.8 608.8,582.3 609.0,582.6 609.2,583.2 609.4,584.1 609.6,582.8 609.8,583.5 610.0,582.8 610.2,582.0 610.4,582.1 610.6,581.8 610.8,580.9 611.0,582.3 611.2,580.1 611.4,581.8 611.6,581.4 611.8,580.4 612.0,579.7 612.2,579.9 612.4,580.2 612.6,580.2 612.8,579.6 613.0,579.9 613.2,578.5 613.4,578.9 613.6,577.4 613.8,578.9 614.0,578.2 614.2,577.6 614.4,578.5 614.6,578.0 614.8,575.1 615.0,577.0 615.2,575.8 615.4,577.6 615.6,578.6 615.8,576.2 616.0,576.6 616.2,576.2 616.4,576.6 616.6,576.7 616.8,577.1 617.0,575.3 617.2,577.1 617.4,575.1 617.6,575.9 617.8,576.5 618.0,576.0 618.2,574.7 618.4,574.8 618.6,574.9 618.8,575.1 619.0,575.9 619.2,574.2 619.4,575.7 619.6,576.0 619.8,576.1 620.0,576.2 620.2,577.2 620.4,576.6 620.6,577.1 620.8,577.0 621.0,578.1 621.2,575.5 621.4,578.1 621.6,577.1 621.8,577.3 622.0,576.9 622.2,576.4 622.4,577.7 622.6,577.7 622.8,578.7 623.0,577.5 623.2,579.8 623.4,579.1 623.6,578.7 623.8,578.3 624.0,578.1 624.2,577.7 624.4,578.0 624.6,578.2 624.8,578.0 625.0,576.9 625.2,577.6 625.4,577.0 625.6,577.6 625.8,578.8 626.0,577.7 626.2,576.9 626.4,575.8 626.6,575.8 626.8,575.4 627.0,577.1 627.2,575.8 627.4,576.3 627.6,575.7 627.8,576.1 628.0,576.9 628.2,575.2 628.4,575.3 628.6,575.0 628.8,576.3 629.0,575.0 629.2,575.1 629.4,575.0 629.6,575.1 629.8,576.7 630.0,578.4 630.2,575.8 630.4,577.4 630.6,577.0 630.8,576.1 631.0,576.9 631.2,577.0 631.4,576.8 631.6,578.9 631.8,576.2 632.0,578.0 632.2,578.1 632.4,577.5 632.6,578.2 632.8,578.9 633.0,578.5 633.2,578.8 633.4,579.1 633.6,577.2 633.8,580.0 634.0,580.7 634.2,579.9 634.4,580.2 634.6,578.5 634.8,579.7 635.0,579.4 635.2,579.8 635.4,581.1 635.6,580.0 635.8,580.7 636.0,579.6 636.2,581.1 636.4,581.5 636.6,581.1 636.8,581.3 637.0,583.4 637.2,581.3 637.4,581.6 637.6,582.0 637.8,583.7 638.0,584.6 638.2,583.4 638.4,582.8 638.6,583.2 638.8,584.5 639.0,583.2 639.2,585.2 639.4,585.3 639.6,584.5 639.8,585.1 640.0,585.4 640.2,586.2 640.4,584.4 640.6,586.2 640.8,585.3 641.0,585.2 641.2,586.0 641.4,585.9 641.6,585.5 641.8,585.3 642.0,585.9 642.2,587.9 642.4,588.5 642.6,587.7 642.8,588.3 643.0,587.2 643.2,587.7 643.4,588.1 643.6,587.1 643.8,586.9 644.0,587.5 644.2,586.9 644.4,586.1 644.6,587.0 644.8,586.2 645.0,587.0 645.2,586.0 645.4,585.5 645.6,585.6 645.8,585.1 646.0,584.5 646.2,584.8 646.4,585.8 646.6,585.8 646.8,586.4 647.0,584.2 647.2,585.3 647.4,585.4 647.6,585.9 647.8,585.6 648.0,585.6 648.2,586.7 648.4,586.3 648.6,585.4 648.8,587.4 649.0,587.2 649.2,586.2 649.4,587.3 649.6,586.2 649.8,587.7 650.0,586.8 650.2,586.5 650.4,586.9 650.6,586.7 650.8,587.4 651.0,587.5 651.2,587.5 651.4,587.1 651.6,584.9 651.8,587.7 652.0,586.3 652.2,588.0 652.4,588.7 652.6,588.2 652.8,587.8 653.0,588.0 653.2,588.1 653.4,587.9 653.6,587.9 653.8,587.7 654.0,589.4 654.2,588.4 654.4,589.0 654.6,588.0 654.8,588.2 655.0,587.9 655.2,588.2 655.4,588.4 655.6,587.9 655.8,587.1 656.0,586.9 656.2,588.6 656.4,587.1 656.6,587.0 656.8,588.2 657.0,587.8 657.2,587.3 657.4,586.5 657.6,588.5 657.8,586.9 658.0,586.9 658.2,586.3 658.4,585.2 658.6,585.2 658.8,586.4 659.0,586.3 659.2,585.7 659.4,584.9 659.6,584.6 659.8,585.4 660.0,584.4 660.2,586.1 660.4,586.2 660.6,587.4 660.8,585.9 661.0,584.8 661.2,584.5 661.4,582.5 661.6,584.6 661.8,584.8 662.0,585.6 662.2,585.3 662.4,585.2 662.6,584.9 662.8,585.2 663.0,585.7 663.2,583.7 663.4,584.1 663.6,583.4 663.8,585.6 664.0,585.3 664.2,584.8 664.4,583.3 664.6,584.2 664.8,583.9 665.0,584.1 665.2,584.0 665.4,584.6 665.6,584.0 665.8,585.1 666.0,584.7 666.2,584.4 666.4,584.7 666.6,584.5 666.8,585.6 667.0,584.9 667.2,585.4 667.4,585.0 667.6,584.3 667.8,586.2 668.0,584.9 668.2,586.3 668.4,586.2 668.6,584.7 668.8,585.4 669.0,585.8 669.2,585.6 669.4,585.3 669.6,586.7 669.8,585.9 670.0,586.3 670.2,585.7 670.4,586.2 670.6,585.4 670.8,585.9 671.0,586.3 671.2,585.9 671.4,585.5 671.6,585.0 671.8,585.9 672.0,586.0 672.2,585.5 672.4,585.1 672.6,586.1 672.8,587.5 673.0,585.4 673.2,585.8 673.4,585.8 673.6,583.6 673.8,585.6 674.0,584.9 674.2,586.5 674.4,585.2 674.6,584.8 674.8,585.2 675.0,585.4 675.2,584.9 675.4,585.2 675.6,584.2 675.8,585.0 676.0,585.7 676.2,586.6 676.4,585.6 676.6,585.3 676.8,585.9 677.0,585.8 677.2,586.1 677.4,585.6 677.6,584.5 677.8,584.7 678.0,584.5 678.2,584.5 678.4,584.3 678.6,583.4 678.8,582.3 679.0,583.3 679.2,582.1 679.4,583.6 679.6,583.4 679.8,582.0 680.0,583.6 680.2,583.7 680.4,583.0 680.6,584.0 680.8,584.0 681.0,581.6 681.2,583.2 681.4,582.6 681.6,582.5 681.8,583.0 682.0,581.8 682.2,582.0 682.4,581.9 682.6,582.0 682.8,582.6 683.0,581.6 683.2,582.0 683.4,583.3 683.6,582.8 683.8,583.2 684.0,581.6 684.2,582.5 684.4,582.7 684.6,583.2 684.8,582.8 685.0,584.0 685.2,583.4 685.4,583.5 685.6,583.6 685.8,584.1 686.0,583.3 686.2,584.6 686.4,584.1 686.6,584.0 686.8,584.0 687.0,584.4 687.2,584.7 687.4,584.6 687.6,584.2 687.8,584.5 688.0,583.9 688.2,584.7 688.4,583.7 688.6,582.2 688.8,584.7 689.0,583.7 689.2,582.8 689.4,583.5 689.6,582.9 689.8,585.1 690.0,583.9 690.2,582.5 690.4,584.3 690.6,583.7 690.8,585.6 691.0,583.6 691.2,582.8 691.4,584.7 691.6,584.6 691.8,584.7 692.0,583.6 692.2,585.7 692.4,586.8 692.6,584.3 692.8,586.8 693.0,585.6 693.2,588.0 693.4,586.7 693.6,586.3 693.8,587.2 694.0,586.8 694.2,585.9 694.4,586.8 694.6,585.8 694.8,584.8 695.0,587.6 695.2,585.8 695.4,585.5 695.6,586.2 695.8,584.7 696.0,584.8 696.2,585.4 696.4,585.3 696.6,585.7 696.8,586.4 697.0,585.2 697.2,585.9 697.4,585.9 697.6,584.6 697.8,585.5 698.0,584.6 698.2,586.0 698.4,585.5 698.6,585.1 698.8,584.0 699.0,585.1 699.2,584.3 699.4,585.4 699.6,584.7 699.8,584.1 700.0,585.3 700.2,585.1 700.4,584.0 700.6,585.2 700.8,584.1 701.0,584.0 701.2,584.2 701.4,583.5 701.6,583.6 701.8,583.8 702.0,584.9 702.2,584.8 702.4,583.4 702.6,584.8 702.8,583.4 703.0,583.7 703.2,584.0 703.4,583.5 703.6,585.0 703.8,583.3 704.0,582.1 704.2,584.1 704.4,583.0 704.6,583.2 704.8,581.3 705.0,584.4 705.2,584.4 705.4,584.5 705.6,584.8 705.8,585.5 706.0,584.3 706.2,585.2 706.4,584.0 706.6,584.5 706.8,585.7 707.0,585.3 707.2,584.0 707.4,585.2 707.6,584.8 707.8,584.3 708.0,585.2 708.2,584.5 708.4,583.6 708.6,583.9 708.8,586.1 709.0,583.6 709.2,584.9 709.4,585.1 709.6,585.1 709.8,583.7 710.0,584.3 710.2,584.6 710.4,585.1 710.6,584.0 710.8,583.6 711.0,585.2 711.2,585.2 711.4,584.6 711.6,583.9 711.8,584.6 712.0,584.4 712.2,584.9 712.4,583.3 712.6,584.3 712.8,584.1 713.0,583.3 713.2,584.3 713.4,584.1 713.6,583.7 713.8,584.3 714.0,582.9 714.2,584.1 714.4,584.5 714.6,584.5 714.8,585.2 715.0,583.6 715.2,583.5 715.4,584.9 715.6,585.1 715.8,586.5 716.0,585.5 716.2,584.4 716.4,585.8 716.6,584.7 716.8,584.3 717.0,587.5 717.2,585.8 717.4,586.2 717.6,586.2 717.8,587.3 718.0,586.2 718.2,586.7 718.4,584.9 718.6,584.4 718.8,586.3 719.0,586.2 719.2,585.3 719.4,584.9 719.6,584.7 719.8,583.9 720.0,585.4 720.2,584.5 720.4,584.2 720.6,583.9 720.8,584.3 721.0,583.7 721.2,583.7 721.4,582.1 721.6,583.1 721.8,584.2 722.0,582.0 722.2,582.1 722.4,582.7 722.6,582.6 722.8,582.1 723.0,580.3 723.2,581.9 723.4,580.6 723.6,580.9 723.8,581.9 724.0,581.3 724.2,582.1 724.4,583.9 724.6,582.1 724.8,582.0 725.0,580.8 725.2,581.0 725.4,580.7 725.6,581.1 725.8,580.7 726.0,581.0 726.2,581.3 726.4,580.7 726.6,580.4 726.8,580.5 727.0,581.8 727.2,581.5 727.4,582.3 727.6,582.3 727.8,581.2 728.0,582.0 728.2,580.4 728.4,583.2 728.6,582.4 728.8,581.3 729.0,580.6 729.2,581.8 729.4,580.1 729.6,580.9 729.8,582.1 730.0,581.6 730.2,581.1 730.4,582.1 730.6,580.5 730.8,581.4 731.0,580.7 731.2,580.4 731.4,581.3 731.6,580.1 731.8,582.2 732.0,580.3 732.2,582.1 732.4,579.7 732.6,580.9 732.8,579.5 733.0,579.3 733.2,580.3 733.4,580.6 733.6,579.1 733.8,580.9 734.0,579.3 734.2,579.9 734.4,580.0 734.6,580.1 734.8,578.2 735.0,580.7 735.2,580.0 735.4,579.3 735.6,578.9 735.8,578.4 736.0,578.7 736.2,580.2 736.4,579.6 736.6,579.1 736.8,579.6 737.0,581.2 737.2,579.8 737.4,579.7 737.6,581.2 737.8,580.5 738.0,580.3 738.2,579.8 738.4,579.2 738.6,579.5 738.8,580.1 739.0,580.3 739.2,580.8 739.4,581.0 739.6,580.8 739.8,580.9 740.0,580.0 740.2,579.2 740.4,580.5 740.6,580.2 740.8,580.5 741.0,580.8 741.2,580.2 741.4,580.5 741.6,581.4 741.8,581.7 742.0,581.3 742.2,582.3 742.4,581.9 742.6,581.4 742.8,582.4 743.0,583.9 743.2,582.1 743.4,583.7 743.6,584.0 743.8,584.2 744.0,582.6 744.2,584.9 744.4,583.6 744.6,583.5 744.8,583.7 745.0,584.5 745.2,584.2 745.4,584.1 745.6,585.3 745.8,584.0 746.0,583.8 746.2,585.3 746.4,585.4 746.6,585.8 746.8,584.3 747.0,586.1 747.2,585.7 747.4,586.8 747.6,584.7 747.8,585.9 748.0,585.7 748.2,584.8 748.4,585.6 748.6,587.0 748.8,585.7 749.0,585.4 749.2,586.5 749.4,586.5 749.6,586.4 749.8,585.0 750.0,585.5 750.2,586.2 750.4,584.8 750.6,584.7 750.8,585.7 751.0,586.2 751.2,584.1 751.4,582.9 751.6,583.8 751.8,584.2 752.0,585.0 752.2,585.7 752.4,585.3 752.6,585.0 752.8,585.8 753.0,585.1 753.2,585.9 753.4,585.6 753.6,588.2 753.8,587.0 754.0,585.9 754.2,585.7 754.4,586.0 754.6,585.1 754.8,585.7 755.0,585.6 755.2,586.8 755.4,585.7 755.6,585.4 755.8,584.9 756.0,585.0 756.2,585.7 756.4,585.5 756.6,586.5 756.8,585.1 757.0,586.3 757.2,585.6 757.4,585.4 757.6,583.8 757.8,584.3 758.0,585.7 758.2,586.1 758.4,585.2 758.6,585.6 758.8,584.8 759.0,584.9 759.2,584.8 759.4,586.1 759.6,585.7 759.8,585.3 760.0,585.3 760.2,586.1 760.4,586.0 760.6,585.2 760.8,587.1 761.0,586.1 761.2,586.0 761.4,587.2 761.6,586.9 761.8,586.2 762.0,586.7 762.2,585.6 762.4,586.0 762.6,584.8 762.8,587.3 763.0,584.9 763.2,586.7 763.4,585.5 763.6,585.3 763.8,585.8 764.0,586.0 764.2,586.2 764.4,587.0 764.6,585.8 764.8,586.1 765.0,585.0 765.2,585.8 765.4,585.3 765.6,584.8 765.8,585.0 766.0,584.9 766.2,585.0 766.4,585.1 766.6,584.3 766.8,584.1 767.0,585.1 767.2,583.2 767.4,583.9 767.6,585.4 767.8,582.1 768.0,583.6 768.2,584.5 768.4,582.7 768.6,585.8 768.8,581.8 769.0,584.7 769.2,584.7 769.4,584.2 769.6,583.2 769.8,583.6 770.0,582.5 770.2,583.7 770.4,582.2 770.6,582.7 770.8,583.6 771.0,581.9 771.2,582.4 771.4,582.7 771.6,581.5 771.8,583.3 772.0,582.6 772.2,581.1 772.4,582.1 772.6,581.5 772.8,581.5 773.0,581.9 773.2,581.3 773.4,582.4 773.6,581.1 773.8,582.3 774.0,581.4 774.2,582.0 774.4,580.9 774.6,580.8 774.8,580.2 775.0,581.4 775.2,581.7 775.4,582.6 775.6,581.9 775.8,581.1 776.0,580.8 776.2,581.2 776.4,580.9 776.6,582.0 776.8,581.6 777.0,580.2 777.2,580.3 777.4,581.9 777.6,581.0 777.8,580.6 778.0,581.7 778.2,580.5 778.4,580.5 778.6,580.4 778.8,579.3 779.0,581.4 779.2,579.8 779.4,580.3 779.6,580.1 779.8,581.2 780.0,580.6 780.2,580.6 780.4,579.4 780.6,580.5 780.8,579.5 781.0,580.8 781.2,580.8 781.4,580.5 781.6,582.1 781.8,580.9 782.0,580.9 782.2,580.6 782.4,580.3 782.6,581.1 782.8,581.2 783.0,579.4 783.2,581.1 783.4,580.7 783.6,581.0 783.8,580.6 784.0,579.3 784.2,579.3 784.4,581.6 784.6,580.4 784.8,579.1 785.0,580.4 785.2,579.8 785.4,578.7 785.6,578.3 785.8,578.8 786.0,580.2 786.2,579.9 786.4,579.8 786.6,580.1 786.8,580.4 787.0,578.3 787.2,579.6 787.4,579.2 787.6,578.9 787.8,579.4 788.0,579.7 788.2,579.5 788.4,578.6 788.6,579.3 788.8,581.2 789.0,578.8 789.2,578.3 789.4,579.8 789.6,580.0 789.8,579.9 790.0,578.7 790.2,580.3 790.4,579.1 790.6,578.9 790.8,579.4 791.0,579.8 791.2,580.5 791.4,580.5 791.6,580.1 791.8,580.9 792.0,580.4 792.2,581.1 792.4,579.4 792.6,579.4 792.8,581.2 793.0,579.7 793.2,580.6 793.4,580.8 793.6,580.6 793.8,580.7 794.0,582.1 794.2,579.3 794.4,581.9 794.6,583.1 794.8,581.4 795.0,581.5 795.2,582.2 795.4,583.1 795.6,581.0 795.8,582.0 796.0,581.9 796.2,582.6 796.4,582.4 796.6,582.9 796.8,582.2 797.0,582.7 797.2,582.3 797.4,582.4 797.6,582.9 797.8,583.0 798.0,582.3 798.2,584.5 798.4,583.3 798.6,582.5 798.8,584.5 799.0,583.2 799.2,584.3 799.4,584.0 799.6,584.3 799.8,584.4 800.0,583.9 800.2,584.5 800.4,586.1 800.6,583.0 800.8,584.9 801.0,585.3 801.2,584.3 801.4,584.1 801.6,586.9 801.8,585.1 802.0,587.1 802.2,585.9 802.4,585.5 802.6,585.8 802.8,585.9 803.0,586.3 803.2,585.7 803.4,585.4 803.6,585.4 803.8,586.3 804.0,585.9 804.2,584.5 804.4,584.7 804.6,585.4 804.8,584.7 805.0,584.8 805.2,584.4 805.4,584.9 805.6,585.4 805.8,585.8 806.0,585.0 806.2,586.6 806.4,585.1 806.6,587.7 806.8,586.1 807.0,585.8 807.2,585.2 807.4,583.5 807.6,585.6 807.8,585.9 808.0,587.3 808.2,585.0 808.4,587.5 808.6,586.0 808.8,586.8 809.0,584.4 809.2,586.5 809.4,586.3 809.6,587.1 809.8,586.8 810.0,585.9 810.2,587.4 810.4,587.1 810.6,586.9 810.8,587.1 811.0,587.1 811.2,586.1 811.4,585.0 811.6,584.9 811.8,586.8 812.0,586.2 812.2,585.6 812.4,585.1 812.6,585.4 812.8,585.3 813.0,584.9 813.2,584.5 813.4,586.5 813.6,585.0 813.8,584.2 814.0,583.6 814.2,583.9 814.4,584.9 814.6,584.8 814.8,583.9 815.0,584.0 815.2,583.6 815.4,582.8 815.6,584.5 815.8,583.6 816.0,585.1 816.2,582.5 816.4,582.8 816.6,583.4 816.8,582.4 817.0,581.4 817.2,581.5 817.4,582.2 817.6,582.2 817.8,581.7 818.0,582.4 818.2,582.2 818.4,581.5 818.6,581.1 818.8,580.8 819.0,581.2 819.2,581.3 819.4,580.5 819.6,580.7 819.8,579.9 820.0,578.9 820.2,579.1 820.4,580.3 820.6,579.9 820.8,580.6 821.0,579.2 821.2,579.9 821.4,580.3 821.6,580.2 821.8,579.0 822.0,579.4 822.2,579.7 822.4,579.0 822.6,580.2 822.8,580.6 823.0,579.6 823.2,581.5 823.4,579.9 823.6,580.0 823.8,580.1 824.0,579.8 824.2,580.7 824.4,580.5 824.6,581.7 824.8,580.8 825.0,580.6 825.2,579.9 825.4,578.9 825.6,579.8 825.8,579.1 826.0,580.4 826.2,579.5 826.4,580.7 826.6,579.9 826.8,579.8 827.0,579.3 827.2,579.1 827.4,579.3 827.6,579.6 827.8,578.6 828.0,579.7 828.2,581.4 828.4,579.6 828.6,579.7 828.8,579.5 829.0,579.2 829.2,581.3 829.4,580.7 829.6,581.1 829.8,582.4 830.0,583.1 830.2,580.8 830.4,582.4 830.6,582.3 830.8,582.3 831.0,582.6 831.2,582.2 831.4,583.5 831.6,582.8 831.8,582.6 832.0,583.4 832.2,583.1 832.4,582.9 832.6,582.8 832.8,583.9 833.0,583.0 833.2,582.6 833.4,582.1 833.6,582.5 833.8,582.0 834.0,583.0 834.2,583.1 834.4,581.4 834.6,583.0 834.8,583.5 835.0,583.2 835.2,582.4 835.4,584.1 835.6,582.7 835.8,582.4 836.0,582.5 836.2,583.4 836.4,584.2 836.6,584.3 836.8,583.7 837.0,582.7 837.2,583.1 837.4,583.0 837.6,583.6 837.8,582.4 838.0,583.9 838.2,584.3 838.4,583.8 838.6,584.3 838.8,583.3 839.0,582.9 839.2,583.5 839.4,584.8 839.6,584.7 839.8,583.6 840.0,584.8 840.2,583.6 840.4,585.0 840.6,584.2 840.8,583.5 841.0,584.4 841.2,583.2 841.4,583.1 841.6,582.7 841.8,583.9 842.0,583.7 842.2,583.6 842.4,583.4 842.6,584.7 842.8,583.3 843.0,583.1 843.2,584.5 843.4,584.6 843.6,583.8 843.8,582.2 844.0,583.1 844.2,583.8 844.4,583.1 844.6,584.1 844.8,581.7 845.0,583.1 845.2,581.9 845.4,583.2 845.6,582.0 845.8,582.6 846.0,581.2 846.2,580.4 846.4,580.5 846.6,580.7 846.8,580.2 847.0,581.7 847.2,581.6 847.4,580.6 847.6,579.5 847.8,580.0 848.0,579.3 848.2,580.8 848.4,579.7 848.6,579.7 848.8,578.8 849.0,577.4 849.2,578.2 849.4,577.8 849.6,578.8 849.8,578.7 850.0,578.2 850.2,578.6 850.4,580.2 850.6,578.4 850.8,578.5 851.0,579.1 851.2,578.9 851.4,579.2 851.6,580.0 851.8,581.1 852.0,578.5 852.2,580.0 852.4,580.1 852.6,580.1 852.8,580.2 853.0,580.2 853.2,581.3 853.4,580.3 853.6,580.6 853.8,580.8 854.0,581.0 854.2,580.9 854.4,581.9 854.6,581.3 854.8,581.5 855.0,581.5 855.2,580.7 855.4,580.8 855.6,580.6 855.8,581.4 856.0,580.7 856.2,580.4 856.4,581.3 856.6,581.5 856.8,579.7 857.0,582.3 857.2,581.0 857.4,580.8 857.6,581.7 857.8,580.9 858.0,580.3 858.2,582.3 858.4,579.8 858.6,580.5 858.8,581.2 859.0,579.7 859.2,580.4 859.4,580.7 859.6,582.2 859.8,579.6 860.0,580.2 860.2,580.7 860.4,580.2 860.6,579.2 860.8,580.4 861.0,580.1 861.2,580.4 861.4,581.0 861.6,581.0 861.8,580.7 862.0,580.7 862.2,579.7 862.4,580.5 862.6,580.9 862.8,580.5 863.0,581.0 863.2,580.4 863.4,582.2 863.6,582.8 863.8,581.0 864.0,581.7 864.2,581.3 864.4,582.5 864.6,581.9 864.8,581.8 865.0,581.6 865.2,581.8 865.4,580.9 865.6,582.1 865.8,580.9 866.0,581.8 866.2,581.4 866.4,582.1 866.6,581.1 866.8,581.8 867.0,580.3 867.2,581.4 867.4,580.7 867.6,581.0 867.8,581.1 868.0,581.9 868.2,579.8 868.4,581.7 868.6,580.5 868.8,582.6 869.0,580.4 869.2,581.3 869.4,580.9 869.6,583.5 869.8,581.5 870.0,582.7 870.2,582.3 870.4,581.5 870.6,582.8 870.8,583.6 871.0,583.2 871.2,584.1 871.4,583.3 871.6,583.7 871.8,583.6 872.0,584.3 872.2,585.5 872.4,584.4 872.6,584.3 872.8,583.8 873.0,583.7 873.2,585.5 873.4,583.6 873.6,583.8 873.8,584.5 874.0,584.3 874.2,586.1 874.4,582.9 874.6,585.1 874.8,585.4 875.0,584.1 875.2,584.5 875.4,585.3 875.6,586.3 875.8,584.4 876.0,584.0 876.2,586.0 876.4,586.5 876.6,585.1 876.8,583.8 877.0,586.6 877.2,585.4 877.4,586.5 877.6,585.6 877.8,585.5 878.0,585.5 878.2,587.0 878.4,587.0 878.6,584.4 878.8,585.4 879.0,587.5 879.2,586.0 879.4,585.3 879.6,586.4 879.8,586.4 880.0,586.5 880.2,586.2 880.4,586.4 880.6,586.4 880.8,587.1 881.0,586.3 881.2,586.8 881.4,586.9 881.6,588.1 881.8,587.5 882.0,587.2 882.2,587.7 882.4,587.7 882.6,588.3 882.8,587.9 883.0,589.0 883.2,588.7 883.4,587.7 883.6,587.5 883.8,588.6 884.0,588.4 884.2,587.9 884.4,586.8 884.6,586.5 884.8,588.1 885.0,588.3 885.2,588.3 885.4,586.7 885.6,588.4 885.8,587.1 886.0,587.8 886.2,587.8 886.4,586.8 886.6,586.9 886.8,585.7 887.0,586.6 887.2,585.8 887.4,587.5 887.6,587.1 887.8,587.7 888.0,587.3 888.2,586.5 888.4,587.2 888.6,586.6 888.8,587.3 889.0,587.0 889.2,586.0 889.4,586.7 889.6,586.6 889.8,586.3 890.0,587.2 890.2,587.7 890.4,586.1 890.6,586.0 890.8,584.5 891.0,586.0 891.2,585.7 891.4,584.3 891.6,586.1 891.8,586.2 892.0,585.1 892.2,585.3 892.4,584.8 892.6,586.0 892.8,584.2 893.0,585.1 893.2,586.7 893.4,585.2 893.6,585.4 893.8,584.9 894.0,584.0 894.2,584.8 894.4,585.0 894.6,583.9 894.8,584.8 895.0,585.4 895.2,585.3 895.4,583.4 895.6,583.9 895.8,583.4 896.0,585.5 896.2,585.2 896.4,585.3 896.6,584.1 896.8,583.9 897.0,584.9 897.2,584.9 897.4,584.2 897.6,585.0 897.8,585.4 898.0,585.2 898.2,584.2 898.4,583.5 898.6,584.9 898.8,585.2 899.0,585.0 899.2,584.9 899.4,584.7 899.6,585.8 899.8,585.2 900.0,585.4 900.2,584.6 900.4,584.9 900.6,585.5 900.8,584.7 901.0,584.5 901.2,585.3 901.4,586.4 901.6,585.7 901.8,586.7 902.0,585.5 902.2,585.4 902.4,584.7 902.6,585.3 902.8,586.8 903.0,586.0 903.2,586.1 903.4,585.9 903.6,585.2 903.8,584.8 904.0,584.9 904.2,585.1 904.4,584.7 904.6,584.6 904.8,584.1 905.0,583.2 905.2,583.4 905.4,582.7 905.6,584.0 905.8,581.4 906.0,582.6 906.2,584.8 906.4,582.9 906.6,582.5 906.8,583.6 907.0,584.8 907.2,583.9 907.4,584.7 907.6,584.5 907.8,584.3 908.0,587.2 908.2,585.1 908.4,584.8 908.6,585.0 908.8,585.9 909.0,586.1 909.2,586.6 909.4,586.3 909.6,585.3 909.8,587.0 910.0,586.6 910.2,586.5 910.4,585.5 910.6,586.1 910.8,585.9 911.0,586.3 911.2,585.1 911.4,586.2 911.6,586.1 911.8,585.1 912.0,585.4 912.2,585.1 912.4,586.3 912.6,583.7 912.8,585.2 913.0,584.1 913.2,585.0 913.4,585.8 913.6,584.6 913.8,585.1 914.0,584.3 914.2,586.3 914.4,585.4 914.6,585.5 914.8,583.5 915.0,583.6 915.2,585.2 915.4,584.1 915.6,584.0 915.8,584.3 916.0,583.0 916.2,584.5 916.4,583.8 916.6,584.0 916.8,583.1 917.0,583.9 917.2,583.0 917.4,584.3 917.6,584.4 917.8,584.3 918.0,584.0 918.2,584.1 918.4,581.7 918.6,584.4 918.8,583.6 919.0,583.9 919.2,583.6 919.4,582.8 919.6,583.5 919.8,584.4 920.0,585.0 920.2,583.5 920.4,583.3 920.6,585.1 920.8,583.4 921.0,585.6 921.2,584.1 921.4,583.5 921.6,584.9 921.8,585.5 922.0,583.1 922.2,585.4 922.4,584.1 922.6,585.4 922.8,584.0 923.0,583.2 923.2,584.8 923.4,585.1 923.6,586.0 923.8,585.8 924.0,585.0 924.2,584.3 924.4,584.1 924.6,584.3 924.8,583.9 925.0,584.4 925.2,582.7 925.4,584.8 925.6,584.6 925.8,586.6 926.0,585.2 926.2,584.3 926.4,585.1 926.6,583.8 926.8,584.3 927.0,583.3 927.2,585.8 927.4,585.2 927.6,583.9 927.8,584.8 928.0,585.5 928.2,585.2 928.4,585.2 928.6,584.2 928.8,584.4 929.0,585.0 929.2,585.6 929.4,584.3 929.6,584.1 929.8,585.8 930.0,584.3 930.2,585.7 930.4,585.0 930.6,585.4 930.8,586.0 931.0,585.2 931.2,585.2 931.4,583.8 931.6,583.9 931.8,584.8 932.0,585.4 932.2,585.3 932.4,585.9 932.6,584.3 932.8,584.1 933.0,584.7 933.2,583.9 933.4,583.7 933.6,582.9 933.8,584.4 934.0,582.8 934.2,583.9 934.4,582.4 934.6,584.2 934.8,582.5 935.0,583.8 935.2,582.0 935.4,582.9 935.6,584.2 935.8,582.7 936.0,583.4 936.2,583.0 936.4,581.6 936.6,583.6 936.8,583.7 937.0,582.6 937.2,583.9 937.4,582.9 937.6,582.7 937.8,583.5 938.0,583.0 938.2,585.3 938.4,582.4 938.6,584.2 938.8,584.4 939.0,582.2 939.2,582.4 939.4,584.1 939.6,583.4 939.8,584.0 940.0,584.6 940.2,583.5 940.4,583.0 940.6,581.8 940.8,584.0 941.0,583.2 941.2,584.1 941.4,584.1 941.6,582.9 941.8,585.3 942.0,584.8 942.2,584.6 942.4,583.0 942.6,583.5 942.8,583.3 943.0,583.3 943.2,582.7 943.4,583.8 943.6,583.6 943.8,583.6 944.0,582.9 944.2,584.1 944.4,583.2 944.6,581.0 944.8,582.5 945.0,582.8 945.2,583.5 945.4,582.5 945.6,582.5 945.8,582.1 946.0,583.0 946.2,582.2 946.4,582.2 946.6,582.2 946.8,583.2 947.0,582.5 947.2,581.7 947.4,583.5 947.6,582.6 947.8,583.4 948.0,583.5 948.2,584.2 948.4,584.2 948.6,583.0 948.8,583.4 949.0,582.7 949.2,585.0 949.4,584.1 949.6,584.9 949.8,583.7 950.0,582.5 950.2,585.0 950.4,583.7 950.6,583.6 950.8,583.4 951.0,583.7 951.2,583.4 951.4,581.7 951.6,583.5 951.8,582.2 952.0,582.0 952.2,583.5 952.4,582.8 952.6,581.7 952.8,580.4 953.0,581.7 953.2,581.8 953.4,581.2 953.6,580.3 953.8,580.7 954.0,580.4 954.2,581.6 954.4,582.1 954.6,582.3 954.8,581.0 955.0,581.8 955.2,582.1 955.4,581.4 955.6,581.7 955.8,583.5 956.0,582.1 956.2,582.6 956.4,581.7 956.6,582.1 956.8,580.9 957.0,582.2 957.2,583.2 957.4,583.9 957.6,583.3 957.8,583.0 958.0,582.5 958.2,582.0 958.4,582.3 958.6,582.8 958.8,581.7 959.0,583.0 959.2,581.5 959.4,580.8 959.6,581.4 959.8,580.8 960.0,581.0 960.2,582.8 960.4,581.8 960.6,582.1 960.8,582.7 961.0,582.8 961.2,581.4 961.4,582.7 961.6,582.0 961.8,581.6 962.0,581.9 962.2,580.5 962.4,580.9 962.6,581.4 962.8,581.8 963.0,581.1 963.2,581.2 963.4,582.0 963.6,582.3 963.8,581.7 964.0,582.1 964.2,580.8 964.4,580.8 964.6,581.3 964.8,580.9 965.0,580.8 965.2,582.6 965.4,581.3 965.6,580.8 965.8,582.0 966.0,583.1 966.2,581.8 966.4,582.8 966.6,581.6 966.8,581.7 967.0,581.6 967.2,582.1 967.4,583.7 967.6,581.5 967.8,583.7 968.0,581.8 968.2,582.5 968.4,583.4 968.6,583.3 968.8,583.2 969.0,581.8 969.2,583.4 969.4,582.5 969.6,585.2 969.8,583.2 970.0,583.6 970.2,582.7 970.4,583.2 970.6,582.7 970.8,584.4 971.0,583.5 971.2,584.2 971.4,583.3 971.6,583.5 971.8,584.9 972.0,583.2 972.2,582.6 972.4,584.3 972.6,583.2 972.8,583.8 973.0,584.8 973.2,583.6 973.4,584.9 973.6,583.8 973.8,585.4 974.0,585.4 974.2,584.0 974.4,584.3 974.6,583.9 974.8,584.7 975.0,585.4 975.2,583.5 975.4,585.3 975.6,583.7 975.8,584.1 976.0,583.4 976.2,586.4 976.4,584.9 976.6,585.1 976.8,584.5 977.0,585.8 977.2,583.4 977.4,585.0 977.6,586.7 977.8,584.8 978.0,585.1 978.2,585.6 978.4,584.5 978.6,585.1 978.8,585.8 979.0,585.3 979.2,585.4 979.4,584.9 979.6,585.4 979.8,585.2 980.0,586.3 980.2,585.8 980.4,585.1 980.6,583.4 980.8,585.8 981.0,585.9 981.2,584.6 981.4,583.8 981.6,584.5 981.8,586.0 982.0,584.6 982.2,585.0 982.4,585.6 982.6,586.3 982.8,585.4 983.0,585.4 983.2,585.0 983.4,586.7 983.6,586.3 983.8,585.4 984.0,584.5 984.2,584.9 984.4,586.0 984.6,585.1 984.8,586.3 985.0,585.9 985.2,585.9 985.4,586.2 985.6,586.1 985.8,585.2 986.0,585.6 986.2,587.6 986.4,585.0 986.6,585.6 986.8,586.8 987.0,585.9 987.2,585.4 987.4,585.1 987.6,586.5 987.8,586.9 988.0,587.2 988.2,586.2 988.4,587.0 988.6,585.5 988.8,586.4 989.0,585.8 989.2,586.5 989.4,587.0 989.6,587.2 989.8,585.7 990.0,587.5 990.2,586.0 990.4,585.4 990.6,585.8 990.8,584.7 991.0,585.6 991.2,585.7 991.4,585.1 991.6,585.5 991.8,584.7 992.0,584.8 992.2,583.5 992.4,584.4 992.6,583.6 992.8,583.7 993.0,583.8 993.2,583.8 993.4,582.3 993.6,582.2 993.8,582.9 994.0,583.4 994.2,583.2 994.4,583.5 994.6,583.7 994.8,583.1 995.0,582.6 995.2,581.7 995.4,581.7 995.6,582.0 995.8,582.5 996.0,582.4 996.2,582.1 996.4,581.9 996.6,582.4 996.8,582.0 997.0,582.0 997.2,582.0 997.4,581.2 997.6,580.8 997.8,581.8 998.0,581.7 998.2,581.2 998.4,580.9 998.6,582.9 998.8,580.5 999.0,580.8 999.2,581.3 999.4,580.3 999.6,581.3 999.8,582.6 1000.0,582.1 1000.2,581.9 1000.4,582.0 1000.6,581.7 1000.8,582.4 1001.0,581.6 1001.2,581.5 1001.4,582.0 1001.6,582.7 1001.8,582.3 1002.0,582.6 1002.2,580.7 1002.4,583.2 1002.6,584.1 1002.8,583.4 1003.0,582.3 1003.2,581.7 1003.4,582.5 1003.6,581.4 1003.8,582.5 1004.0,581.5 1004.2,582.5 1004.4,582.6 1004.6,580.0 1004.8,581.6 1005.0,580.7 1005.2,580.1 1005.4,580.5 1005.6,580.7 1005.8,581.5 1006.0,579.5 1006.2,581.3 1006.4,581.9 1006.6,580.7 1006.8,580.5 1007.0,580.0 1007.2,579.1 1007.4,580.3 1007.6,580.2 1007.8,580.4 1008.0,581.8 1008.2,580.3 1008.4,580.1 1008.6,580.9 1008.8,578.7 1009.0,578.8 1009.2,579.4 1009.4,579.1 1009.6,580.1 1009.8,579.3 1010.0,580.8 1010.2,580.7 1010.4,580.2 1010.6,579.4 1010.8,580.2 1011.0,580.4 1011.2,579.1 1011.4,580.2 1011.6,580.5 1011.8,580.2 1012.0,581.3 1012.2,581.1 1012.4,579.6 1012.6,580.4 1012.8,579.7 1013.0,580.8 1013.2,579.8 1013.4,581.2 1013.6,580.9 1013.8,581.4 1014.0,580.6 1014.2,579.7 1014.4,582.1 1014.6,580.8 1014.8,582.0 1015.0,581.3 1015.2,581.5 1015.4,582.4 1015.6,581.4 1015.8,582.2 1016.0,580.0 1016.2,581.8 1016.4,581.0 1016.6,581.2 1016.8,581.3 1017.0,581.6 1017.2,582.6 1017.4,580.0 1017.6,581.4 1017.8,580.9 1018.0,582.4 1018.2,581.2 1018.4,581.9 1018.6,581.3 1018.8,582.1 1019.0,582.4 1019.2,581.4 1019.4,581.7 1019.6,580.7 1019.8,582.0 1020.0,582.4 1020.2,581.3 1020.4,582.5 1020.6,580.0 1020.8,580.1 1021.0,580.4 1021.2,581.0 1021.4,581.3 1021.6,581.2 1021.8,581.1 1022.0,581.6 1022.2,580.7 1022.4,580.0 1022.6,579.9 1022.8,582.4 1023.0,579.0 1023.2,580.5 1023.4,581.7 1023.6,580.9 1023.8,579.8 1024.0,580.4 1024.2,580.9 1024.4,581.1 1024.6,579.5 1024.8,580.6 1025.0,580.2 1025.2,580.7 1025.4,580.8 1025.6,579.3 1025.8,578.4 1026.0,579.6 1026.2,580.5 1026.4,579.6 1026.6,579.1 1026.8,580.6 1027.0,577.9 1027.2,579.2 1027.4,578.0 1027.6,578.3 1027.8,578.2 1028.0,579.1 1028.2,577.6 1028.4,578.3 1028.6,577.9 1028.8,579.8 1029.0,579.4 1029.2,580.4 1029.4,579.6 1029.6,580.5 1029.8,581.9 1030.0,581.4 1030.2,582.3 1030.4,582.6 1030.6,582.3 1030.8,581.7 1031.0,584.0 1031.2,583.7 1031.4,584.7 1031.6,582.8 1031.8,583.4 1032.0,583.4 1032.2,584.3 1032.4,585.7 1032.6,585.3 1032.8,584.8 1033.0,584.8 1033.2,585.3 1033.4,584.4 1033.6,584.9 1033.8,584.7 1034.0,582.9 1034.2,584.2 1034.4,585.4 1034.6,584.1 1034.8,584.2 1035.0,583.8 1035.2,583.8 1035.4,585.0 1035.6,583.9 1035.8,583.3 1036.0,581.7 1036.2,583.7 1036.4,582.8 1036.6,583.0 1036.8,585.1 1037.0,585.2 1037.2,583.3 1037.4,585.5 1037.6,585.4 1037.8,584.6 1038.0,585.8 1038.2,584.2 1038.4,584.6 1038.6,584.6 1038.8,585.0 1039.0,586.6 1039.2,585.0 1039.4,585.3 1039.6,585.6 1039.8,586.6 1040.0,586.3 1040.2,587.3 1040.4,586.3 1040.6,586.0 1040.8,586.7 1041.0,587.2 1041.2,586.6 1041.4,587.5 1041.6,588.7 1041.8,587.0 1042.0,587.5 1042.2,588.6 1042.4,587.1 1042.6,587.0 1042.8,586.9 1043.0,588.1 1043.2,588.2 1043.4,587.8 1043.6,588.0 1043.8,588.9 1044.0,588.7 1044.2,587.0 1044.4,588.1 1044.6,588.2 1044.8,588.5 1045.0,587.7 1045.2,587.3 1045.4,587.3 1045.6,586.2 1045.8,587.4 1046.0,586.8 1046.2,587.5 1046.4,586.3 1046.6,586.6 1046.8,586.1 1047.0,585.9 1047.2,587.1 1047.4,586.1 1047.6,586.6 1047.8,585.4 1048.0,586.1 1048.2,584.7 1048.4,585.5 1048.6,585.3 1048.8,586.0 1049.0,585.6 1049.2,585.3 1049.4,586.0 1049.6,585.5 1049.8,585.7 1050.0,585.8 1050.2,585.2 1050.4,585.0 1050.6,585.4 1050.8,584.8 1051.0,585.4 1051.2,585.9 1051.4,585.6 1051.6,584.7 1051.8,583.9 1052.0,584.8 1052.2,584.7 1052.4,585.6 1052.6,584.5 1052.8,584.5 1053.0,585.2 1053.2,584.3 1053.4,584.5 1053.6,585.8 1053.8,585.6 1054.0,584.9 1054.2,584.6 1054.4,583.5 1054.6,584.5 1054.8,584.1 1055.0,584.1 1055.2,583.4 1055.4,583.7 1055.6,583.4 1055.8,583.7 1056.0,584.4 1056.2,583.5 1056.4,581.9 1056.6,582.3 1056.8,581.7 1057.0,582.2 1057.2,583.1 1057.4,583.0 1057.6,582.2 1057.8,582.8 1058.0,582.0 1058.2,581.4 1058.4,581.4 1058.6,581.8 1058.8,583.4 1059.0,581.3 1059.2,583.2 1059.4,583.2 1059.6,582.1 1059.8,582.1 1060.0,581.7 1060.2,582.1 1060.4,582.5 1060.6,582.0 1060.8,582.7 1061.0,582.8 1061.2,582.1 1061.4,582.1 1061.6,581.7 1061.8,582.0 1062.0,580.8 1062.2,581.9 1062.4,581.7 1062.6,580.9 1062.8,583.1 1063.0,580.7 1063.2,580.7 1063.4,581.4 1063.6,579.7 1063.8,580.4 1064.0,579.8 1064.2,580.1 1064.4,580.6 1064.6,580.8 1064.8,581.3 1065.0,581.0 1065.2,581.1 1065.4,580.6 1065.6,579.7 1065.8,580.8 1066.0,579.4 1066.2,579.2 1066.4,580.7 1066.6,580.1 1066.8,579.5 1067.0,579.8 1067.2,579.8 1067.4,578.0 1067.6,578.9 1067.8,577.9 1068.0,578.8 1068.2,578.1 1068.4,579.5 1068.6,578.8 1068.8,577.7 1069.0,578.1 1069.2,577.3 1069.4,578.3 1069.6,578.7 1069.8,578.5 1070.0,576.9 1070.2,578.1 1070.4,578.8 1070.6,578.6 1070.8,579.3 1071.0,577.5 1071.2,578.9 1071.4,578.1 1071.6,578.7 1071.8,578.9 1072.0,579.2 1072.2,578.2 1072.4,578.8 1072.6,577.9 1072.8,577.7 1073.0,579.2 1073.2,578.8 1073.4,577.6 1073.6,578.3 1073.8,578.9 1074.0,580.1 1074.2,580.0 1074.4,580.0 1074.6,578.3 1074.8,579.8 1075.0,580.4 1075.2,580.6 1075.4,580.8 1075.6,580.6 1075.8,582.3 1076.0,582.3 1076.2,581.4 1076.4,580.9 1076.6,583.4 1076.8,581.7 1077.0,583.2 1077.2,584.0 1077.4,582.1 1077.6,583.2 1077.8,583.0 1078.0,583.8 1078.2,583.6 1078.4,584.7 1078.6,583.6 1078.8,583.0 1079.0,583.8 1079.2,582.7 1079.4,582.5 1079.6,584.3 1079.8,581.9 1080.0,582.1 1080.2,582.4 1080.4,581.5 1080.6,580.6 1080.8,582.8 1081.0,581.4 1081.2,581.5 1081.4,581.5 1081.6,580.9 1081.8,580.8 1082.0,581.6 1082.2,583.2 1082.4,581.8 1082.6,581.7 1082.8,579.9 1083.0,580.9 1083.2,580.0 1083.4,581.3 1083.6,580.5 1083.8,580.6 1084.0,580.4 1084.2,580.0 1084.4,579.4 1084.6,581.0 1084.8,579.5 1085.0,579.7 1085.2,580.4 1085.4,580.1 1085.6,580.8 1085.8,581.4 1086.0,580.8 1086.2,580.8 1086.4,580.7 1086.6,581.4 1086.8,579.4 1087.0,581.0 1087.2,580.1 1087.4,579.9 1087.6,580.8 1087.8,580.5 1088.0,581.3 1088.2,581.7 1088.4,579.2 1088.6,580.9 1088.8,582.4 1089.0,581.6 1089.2,582.2 1089.4,581.4 1089.6,580.5 1089.8,580.9 1090.0,582.5 1090.2,582.9 1090.4,581.9 1090.6,582.4 1090.8,583.0 1091.0,581.7 1091.2,583.0 1091.4,584.7 1091.6,585.3 1091.8,583.8 1092.0,585.4 1092.2,583.9 1092.4,583.9 1092.6,583.0 1092.8,585.6 1093.0,584.8 1093.2,587.1 1093.4,585.8 1093.6,585.9 1093.8,584.6 1094.0,587.3 1094.2,586.0 1094.4,586.2 1094.6,584.7 1094.8,587.1 1095.0,587.2 1095.2,586.1 1095.4,586.7 1095.6,587.0 1095.8,587.5 1096.0,586.9 1096.2,588.2 1096.4,586.8 1096.6,586.6 1096.8,586.7 1097.0,585.3 1097.2,586.5 1097.4,587.8 1097.6,587.1 1097.8,586.2 1098.0,587.0 1098.2,585.2 1098.4,586.4 1098.6,586.9 1098.8,587.0 1099.0,585.8 1099.2,587.0 1099.4,587.6 1099.6,585.8 1099.8,586.6 1100.0,584.8 1100.2,584.5 1100.4,586.3 1100.6,585.8 1100.8,585.8 1101.0,585.2 1101.2,585.3 1101.4,586.1 1101.6,586.7 1101.8,585.1 1102.0,584.0 1102.2,586.1 1102.4,585.5 1102.6,585.5 1102.8,585.1 1103.0,586.6 1103.2,584.8 1103.4,585.1 1103.6,583.2 1103.8,584.1 1104.0,583.9 1104.2,584.4 1104.4,584.7 1104.6,583.8 1104.8,585.7 1105.0,583.5 1105.2,584.0 1105.4,584.5 1105.6,583.3 1105.8,584.7 1106.0,584.7 1106.2,584.0 1106.4,585.6 1106.6,584.2 1106.8,584.3 1107.0,583.4 1107.2,582.8 1107.4,583.6 1107.6,583.8 1107.8,583.7 1108.0,584.6 1108.2,582.2 1108.4,583.1 1108.6,582.6 1108.8,584.9 1109.0,583.5 1109.2,583.5 1109.4,583.0 1109.6,584.5 1109.8,583.5 1110.0,583.9 1110.2,582.2 1110.4,584.7 1110.6,584.1 1110.8,584.2 1111.0,584.7 1111.2,583.7 1111.4,583.7 1111.6,584.4 1111.8,584.1 1112.0,583.6 1112.2,583.9 1112.4,583.5 1112.6,584.4 1112.8,584.6 1113.0,583.9 1113.2,585.3 1113.4,582.7 1113.6,583.7 1113.8,585.2 1114.0,583.6 1114.2,582.7 1114.4,585.0 1114.6,584.3 1114.8,583.0 1115.0,584.5 1115.2,583.2 1115.4,582.9 1115.6,583.8 1115.8,583.6 1116.0,583.1 1116.2,583.7 1116.4,583.3 1116.6,584.2 1116.8,584.1 1117.0,584.8 1117.2,583.9 1117.4,583.3 1117.6,583.4 1117.8,584.2 1118.0,585.6 1118.2,585.1 1118.4,584.1 1118.6,585.3 1118.8,583.8 1119.0,585.5 1119.2,584.5 1119.4,585.4 1119.6,585.3 1119.8,584.7 1120.0,585.2 1120.2,584.2 1120.4,585.0 1120.6,585.9 1120.8,588.2 1121.0,585.7 1121.2,585.3"/>
</g>
<rect x="140" y="32" width="1028" height="750" fill="none" stroke="#000" stroke-width="2"/>
<g stroke="#000" stroke-width="2">
<line x1="186.73" y1="783" x2="186.73" y2="793"/>
<line x1="420.37" y1="783" x2="420.37" y2="793"/>
<line x1="654.00" y1="783" x2="654.00" y2="793"/>
<line x1="887.63" y1="783" x2="887.63" y2="793"/>
<line x1="1121.27" y1="783" x2="1121.27" y2="793"/>
<line x1="129" y1="143.50" x2="139" y2="143.50"/>
<line x1="129" y1="283.90" x2="139" y2="283.90"/>
<line x1="129" y1="424.30" x2="139" y2="424.30"/>
<line x1="129" y1="564.70" x2="139" y2="564.70"/>
<line x1="129" y1="705.10" x2="139" y2="705.10"/>
</g>
<g text-anchor="middle">
<text transform="translate(186.73,824.8) scale(1,1.075)">0</text>
<text transform="translate(420.37,824.8) scale(1,1.075)">500</text>
<text transform="translate(654.00,824.8) scale(1,1.075)">1000</text>
<text transform="translate(887.63,824.8) scale(1,1.075)">1500</text>
<text transform="translate(1121.27,824.8) scale(1,1.075)">2000</text>
</g>
<g text-anchor="end">
<text transform="translate(119.9,154.00) scale(1,1.065)">30</text>
<text transform="translate(119.9,294.40) scale(1,1.065)">0</text>
<text transform="translate(119.9,434.80) scale(1,1.065)"><tspan dy="2.6" stroke-width="0">−</tspan><tspan dy="-2.6">30</tspan></text>
<text transform="translate(119.9,575.20) scale(1,1.065)"><tspan dy="2.6" stroke-width="0">−</tspan><tspan dy="-2.6">60</tspan></text>
<text transform="translate(119.9,715.60) scale(1,1.065)"><tspan dy="2.6" stroke-width="0">−</tspan><tspan dy="-2.6">90</tspan></text>
</g>
<text transform="translate(654,862.8) scale(1,1.02)" text-anchor="middle">Time (ms)</text>
<text transform="translate(56.7,407) rotate(-90) scale(1,1.04)" text-anchor="middle">Voltage (mv)</text>
</svg>
</body>
</html>
